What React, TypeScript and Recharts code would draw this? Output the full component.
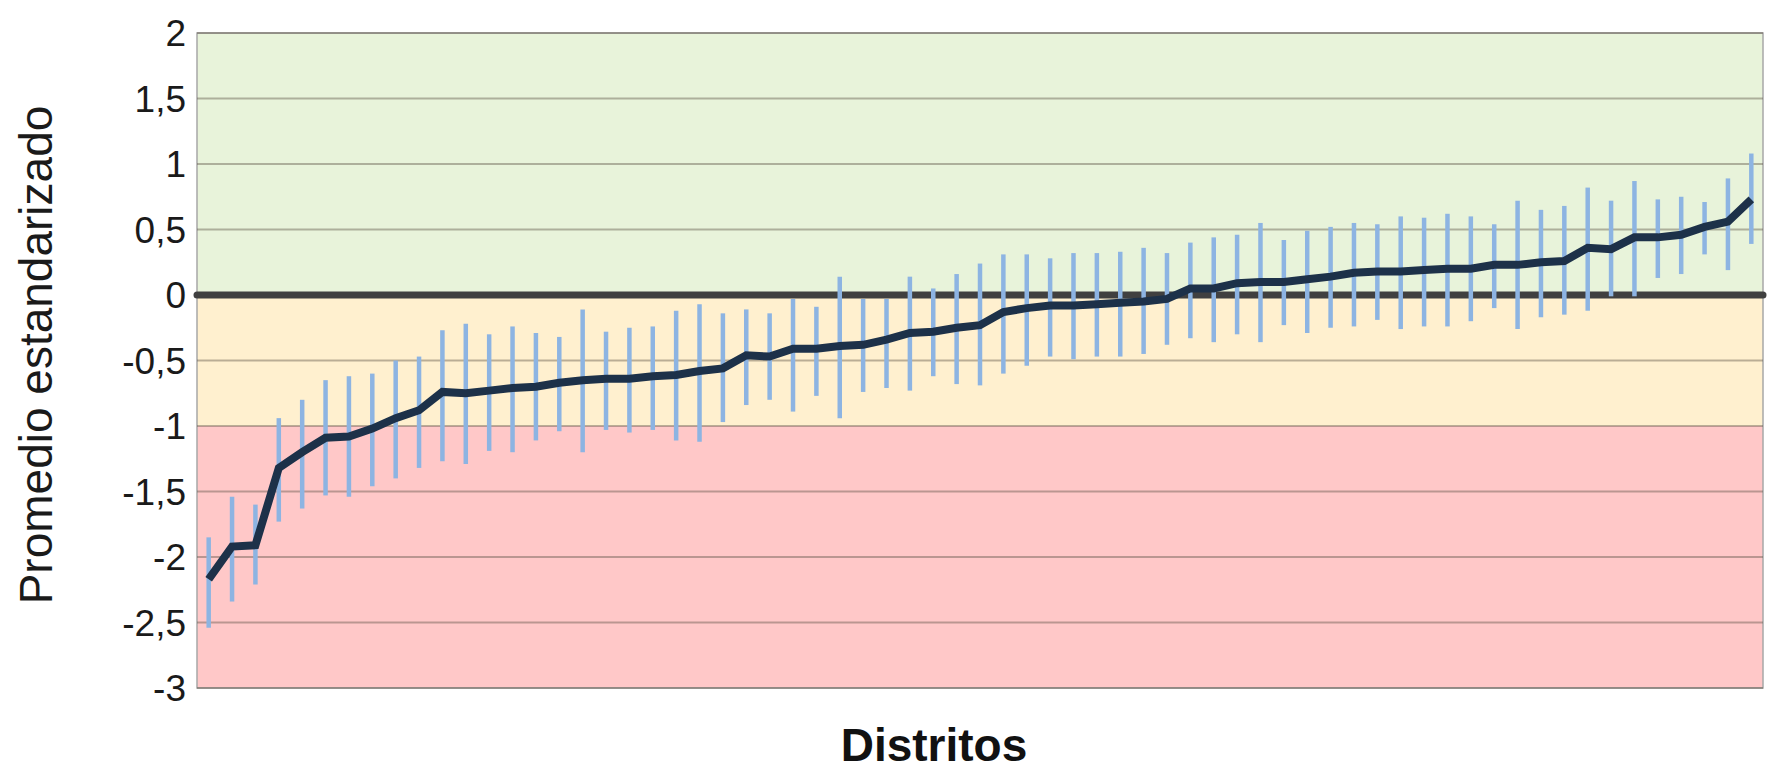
import React from 'react';
import { ComposedChart, Line, ErrorBar, XAxis, YAxis, ReferenceArea, ReferenceLine } from 'recharts';

// promedio estandarizado por distrito (ordenado), con intervalo inferior / superior
const promedio = [
  -2.17, -1.92, -1.91, -1.32, -1.2, -1.09, -1.08, -1.02, -0.94, -0.88,
  -0.74, -0.75, -0.73, -0.71, -0.7, -0.67, -0.65, -0.64, -0.64, -0.62,
  -0.61, -0.58, -0.56, -0.46, -0.47, -0.41, -0.41, -0.39, -0.38, -0.34,
  -0.29, -0.28, -0.25, -0.23, -0.13, -0.1, -0.08, -0.08, -0.07, -0.06,
  -0.05, -0.03, 0.05, 0.05, 0.09, 0.1, 0.1, 0.12, 0.14, 0.17,
  0.18, 0.18, 0.19, 0.2, 0.2, 0.23, 0.23, 0.25, 0.26, 0.36,
  0.35, 0.44, 0.44, 0.46, 0.52, 0.56, 0.73,
];
const inferior = [
  -2.54, -2.34, -2.21, -1.73, -1.63, -1.53, -1.54, -1.46, -1.4, -1.32,
  -1.27, -1.29, -1.19, -1.2, -1.11, -1.04, -1.2, -1.03, -1.05, -1.03,
  -1.11, -1.12, -0.97, -0.84, -0.8, -0.89, -0.77, -0.94, -0.74, -0.71,
  -0.73, -0.62, -0.68, -0.69, -0.6, -0.54, -0.47, -0.49, -0.47, -0.47,
  -0.45, -0.38, -0.33, -0.36, -0.3, -0.36, -0.23, -0.29, -0.25, -0.24,
  -0.19, -0.26, -0.24, -0.24, -0.2, -0.1, -0.26, -0.17, -0.15, -0.12,
  -0.01, -0.01, 0.13, 0.16, 0.31, 0.19, 0.39,
];
const superior = [
  -1.85, -1.54, -1.6, -0.94, -0.8, -0.65, -0.62, -0.6, -0.5, -0.47,
  -0.27, -0.22, -0.3, -0.24, -0.29, -0.32, -0.11, -0.28, -0.25, -0.24,
  -0.12, -0.07, -0.14, -0.11, -0.14, -0.03, -0.09, 0.14, -0.03, -0.03,
  0.14, 0.05, 0.16, 0.24, 0.31, 0.31, 0.28, 0.32, 0.32, 0.33,
  0.36, 0.32, 0.4, 0.44, 0.46, 0.55, 0.42, 0.49, 0.52, 0.55,
  0.54, 0.6, 0.59, 0.62, 0.6, 0.54, 0.72, 0.65, 0.68, 0.82,
  0.72, 0.87, 0.73, 0.75, 0.71, 0.89, 1.08,
];
const yTicks = [-3, -2.5, -2, -1.5, -1, -0.5, 0, 0.5, 1, 1.5, 2];

const data = promedio.map((m, i) => ({
  distrito: i + 1,
  promedio: m,
  error: [m - inferior[i], superior[i] - m],
}));

const fmt = (v: number) => String(v).replace('.', ',');
const font = '"Liberation Sans", Arial, sans-serif';

export default function App() {
  return (
    <div style={{ position: 'absolute', left: 0, top: 0, width: 1769, height: 772, background: '#fff' }}>
      <ComposedChart width={1769} height={772} data={data} margin={{ top: 33, right: 6, bottom: 84, left: 0 }}>
        <XAxis dataKey="distrito" type="number" domain={[0.5, promedio.length + 0.5]} hide />
        <YAxis
          domain={[-3, 2]}
          ticks={yTicks}
          width={197}
          axisLine={false}
          tickLine={false}
          tickSize={0}
          tickMargin={11}
          tickFormatter={fmt}
          tick={{ fill: '#1a1a1a', fontSize: 37, fontFamily: font }}
          interval={0}
        />
        <ReferenceArea y1={0} y2={2} fill="#e8f3da" fillOpacity={1} stroke="none" />
        <ReferenceArea y1={-1} y2={0} fill="#fff0cf" fillOpacity={1} stroke="none" />
        <ReferenceArea y1={-3} y2={-1} fill="#ffc8c8" fillOpacity={1} stroke="none" />
        {yTicks.filter((t) => t !== 0).map((t) => (
          <ReferenceLine key={t} y={t} stroke="rgba(90,80,70,0.42)" strokeWidth={2} />
        ))}
        <ReferenceArea y1={-3} y2={2} fill="none" stroke="#a8a8a8" strokeWidth={1.5} />
        <ReferenceLine y={0} stroke="#404040" strokeWidth={7} strokeLinecap="round" />
        <Line
          dataKey="promedio"
          stroke="#1d3149"
          strokeWidth={8}
          dot={false}
          activeDot={false}
          isAnimationActive={false}
        >
          <ErrorBar dataKey="error" direction="y" width={0} stroke="#8db4e2" strokeWidth={4.5} isAnimationActive={false} />
        </Line>
      </ComposedChart>
      <svg width={1769} height={772} style={{ position: 'absolute', left: 0, top: 0, pointerEvents: 'none' }}>
        <text
          x={52}
          y={355}
          transform="rotate(-90 52 355)"
          textAnchor="middle"
          fontFamily={font}
          fontSize={46}
          fill="#1a1a1a"
        >
          Promedio estandarizado
        </text>
        <text x={934} y={761} textAnchor="middle" fontFamily={font} fontSize={46} fontWeight="bold" fill="#111">
          Distritos
        </text>
      </svg>
    </div>
  );
}
